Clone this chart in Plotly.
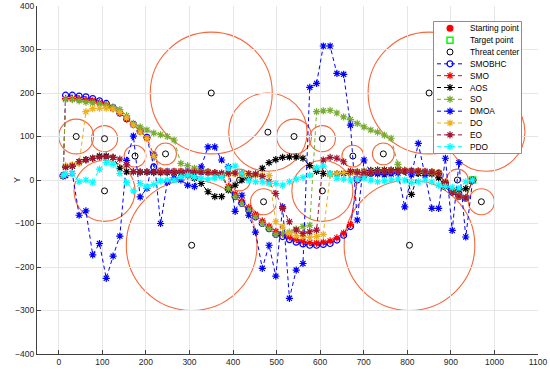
import plotly.graph_objects as go

# Grid of x positions for path points (interior waypoints)
x_grid = [15.6, 31.1, 46.7, 62.3, 77.9, 93.4, 109.0, 124.6, 140.1, 155.7,
          171.3, 186.8, 202.4, 218.0, 233.6, 249.1, 264.7, 280.3, 295.8, 311.4,
          327.0, 342.5, 358.1, 373.7, 389.3, 404.8, 420.4, 436.0, 451.5, 467.1,
          482.7, 498.2, 513.8, 529.4, 545.0, 560.5, 576.1, 591.7, 607.2, 622.8,
          638.4, 653.9, 669.5, 685.1, 700.7, 716.2, 731.8, 747.4, 762.9, 778.5,
          794.1, 809.6, 825.2, 840.8, 856.4, 871.9, 887.5, 903.1, 918.6, 934.2]

start_pt = (10, 10)
target_pt = (950, 0)

threat_x = [40, 105, 175, 245, 105, 305, 350, 415, 470, 480,
            540, 605, 675, 745, 605, 805, 850, 915, 970, 980]
threat_y = [100, 95, 55, 60, -25, -150, 200, 0, -50, 110,
            100, 95, 55, 60, -25, -150, 200, 0, -50, 110]
threat_r = [40, 30, 25, 25, 70, 150, 140, 25, 30, 90,
            40, 30, 25, 25, 70, 150, 140, 25, 30, 90]

y_smobhc = [195, 195, 193, 191, 187, 182, 176, 166, 154, 141, 128, 113, 98, 30, 19, 19, 19, 19, 19, 19,
            19, 18, 15, 10, -20, -38, -54, -69, -85, -100, -112, -125, -130, -137, -143, -147, -150, -150, -148, -146,
            -138, -127, -107, 0, 11, 15, 17, 18, 19, 20, 20, 20, 19, 18, 17, 16, -8, -28, -38, -42]
y_smo = [187, 187, 186, 184, 182, 178, 173, 165, 153, 140, 127, 112, 96, 57, 21, 20, 20, 20, 20, 20,
         20, 19, 17, 12, -15, -32, -48, -63, -79, -94, -106, -118, -124, -131, -137, -141, -144, -145, -143, -140,
         -133, -122, -102, 3, 13, 17, 19, 20, 21, 22, 22, 22, 21, 20, 19, 17, -5, -25, -36, -40]
y_aos = [30, 32, 42, 47, 50, 55, 55, 52, 27, 19, 19, 18, 18, 17, 17, 17, 17, 15, 10, 4,
         -8, -27, -38, -38, -23, -12, 0, 5, 12, 27, 40, 47, 52, 53, 53, 50, 33, 20, 15, 14,
         14, 15, 17, 19, 20, 22, 23, 23, 23, 23, 20, -33, 15, 15, 14, 5, -16, -23, -23, -20]
y_so = [185, 185, 182, 179, 177, 175, 172, 168, 162, 148, 130, 122, 115, 108, 104, 100, 92, 38, 33, 27,
        22, 19, 17, 12, -20, -38, -54, -69, -85, -100, -112, -125, -123, -120, -113, -107, -104, 157, 159, 160,
        154, 145, 139, 130, 122, 115, 110, 103, 96, 36, 22, 20, 19, 18, 17, 16, -6, -26, -37, -41]
y_dmoa = [10, 15, -81, -71, -172, -146, -226, -175, -129, 45, 101, -39, -19, 57, -100, -5, 5, 0, -12, -15,
          30, 76, 76, 46, 30, -72, -35, -81, -120, -203, -150, -221, -62, -272, -207, -192, 213, 222, 308, 308,
          245, 243, 126, -92, 46, 16, 14, 12, 14, 16, -62, 12, 84, 10, -65, -65, 50, -116, 40, -131]
y_do = [33, 35, 38, 157, 164, 165, 165, 163, 155, 143, 126, 110, 95, 55, 20, 19, 19, 19, 19, 19,
        19, 18, 17, 15, 14, 14, 13, 12, 12, 11, 10, -96, -108, -122, -128, -130, -132, -130, -125, 12,
        15, 17, 18, 18, 19, 19, 20, 20, 21, 21, 21, 21, 20, 19, 18, 15, -6, -26, -37, -41]
y_eo = [29, 32, 42, 46, 50, 53, 53, 52, 48, 35, 19, 19, 19, 19, 18, 18, 18, 18, 18, 18,
        18, 17, 17, 16, 16, 16, 15, 15, 14, 8, -4, -31, -65, -96, -115, -123, -119, -115, 46, 52,
        50, 42, 20, 17, 17, 18, 19, 20, 21, 21, 21, 21, 20, 19, 18, 15, -6, -27, -37, -41]
y_pdo = [15, 15, -4, 0, -5, 25, 40, 36, 15, -6, -25, -8, -15, -10, -2, 0, 0, 7, 11, 7,
         4, 2, 5, 7, 28, 32, 15, 0, -4, -4, -8, -8, -12, -4, 2, 6, 11, 28, 32, 15,
         4, 2, 0, 2, 4, 0, -4, -2, 0, 2, 0, -6, -4, 0, -4, -12, -15, -17, -19, -4]

x_ticks = [0, 100, 200, 300, 400, 500, 600, 700, 800, 900, 1000, 1100]
y_ticks = [-400, -300, -200, -100, 0, 100, 200, 300, 400]

series = [
    ("SMOBHC", y_smobhc, "#0000FF", "circle-open"),
    ("SMO", y_smo, "#FF0000", "asterisk-open"),
    ("AOS", y_aos, "#000000", "asterisk-open"),
    ("SO", y_so, "#77AC30", "asterisk-open"),
    ("DMOA", y_dmoa, "#0000FF", "asterisk-open"),
    ("DO", y_do, "#EDB120", "asterisk-open"),
    ("EO", y_eo, "#A2142F", "asterisk-open"),
    ("PDO", y_pdo, "#00FFFF", "asterisk-open"),
]

start_marker = dict(symbol="circle", size=7, color="#FF0000", line=dict(width=0))
target_marker = dict(symbol="square-open", size=6, color="#00FF00", line=dict(width=1.5, color="#00FF00"))
threat_marker = dict(symbol="circle-open", size=6, color="#000000", line=dict(width=1, color="#000000"))

fig = go.Figure()

fig.add_trace(go.Scatter(x=[start_pt[0]], y=[start_pt[1]], mode="markers", name="Starting point",
                         marker=start_marker, showlegend=False))
fig.add_trace(go.Scatter(x=[target_pt[0]], y=[target_pt[1]], mode="markers", name="Target point",
                         marker=target_marker, showlegend=False))
fig.add_trace(go.Scatter(x=threat_x, y=threat_y, mode="markers", name="Threat center",
                         marker=threat_marker, showlegend=False))

DASH = "4px,3px"
for name, ys, col, sym in series:
    xs = [start_pt[0]] + x_grid + [target_pt[0]]
    yy = [start_pt[1]] + ys + [target_pt[1]]
    fig.add_trace(go.Scatter(
        x=xs, y=yy, mode="lines+markers", name=name, showlegend=False,
        line=dict(color=col, width=1, dash=DASH),
        marker=dict(symbol=sym, size=6, color=col, line=dict(width=1.2, color=col)),
    ))

shapes = []
for cx, cy, r in zip(threat_x, threat_y, threat_r):
    shapes.append(dict(type="circle", xref="x", yref="y",
                       x0=cx - r, x1=cx + r, y0=cy - r, y1=cy + r,
                       line=dict(color="#F5693C", width=1.1), layer="below"))

# ---- Manual legend drawn on an overlay axis in pixel units ----
L, R, T, B = 37, 12, 6, 17
W, H = 550, 371
box = dict(x0=433.5, x1=521.5, y0=21.5, y1=153.5)
fig.add_trace(go.Scatter(
    x=[box["x0"], box["x1"], box["x1"], box["x0"], box["x0"]],
    y=[box["y0"], box["y0"], box["y1"], box["y1"], box["y0"]],
    mode="lines", fill="toself", fillcolor="white",
    line=dict(color="#8C8C8C", width=1), xaxis="x2", yaxis="y2",
    showlegend=False, hoverinfo="skip"))

legend_entries = [("Starting point", None, start_marker),
                  ("Target point", None, target_marker),
                  ("Threat center", None, threat_marker)]
for name, ys, col, sym in series:
    legend_entries.append((name, col, dict(symbol=sym, size=6, color=col, line=dict(width=1.2, color=col))))

row0, step = 28.3, 11.84
annotations = []
for i, (label, col, mk) in enumerate(legend_entries):
    yc = row0 + i * step
    if col is not None:
        fig.add_trace(go.Scatter(x=[437, 463], y=[yc, yc], mode="lines", xaxis="x2", yaxis="y2",
                                 line=dict(color=col, width=1, dash=DASH),
                                 showlegend=False, hoverinfo="skip"))
    fig.add_trace(go.Scatter(x=[450], y=[yc], mode="markers", xaxis="x2", yaxis="y2",
                             marker=mk, showlegend=False, hoverinfo="skip"))
    annotations.append(dict(x=468, y=yc, xref="x2", yref="y2", text=label, showarrow=False,
                            xanchor="left", yanchor="middle",
                            font=dict(size=8.3, color="#000000")))

annotations.append(dict(x=(10 - L) / (W - L - R), y=(H - B - 180) / (H - T - B), xref="paper", yref="paper",
                        text="Y", showarrow=False, textangle=-90,
                        font=dict(size=9, color="#262626")))

fig.update_layout(
    width=W, height=H,
    margin=dict(l=L, r=R, t=T, b=B),
    paper_bgcolor="white", plot_bgcolor="white",
    font=dict(family="Liberation Sans, Arial, sans-serif", size=8.5, color="#262626"),
    shapes=shapes,
    annotations=annotations,
    showlegend=False,
    hovermode=False,
    xaxis=dict(range=[-50, 1100], tickvals=x_ticks, automargin=False,
               showgrid=True, gridcolor="#E6E6E6", gridwidth=1, zeroline=False,
               showline=True, linecolor="#404040", linewidth=1,
               ticks="inside", ticklen=4, tickcolor="#404040"),
    yaxis=dict(range=[-400, 400], tickvals=y_ticks, automargin=False,
               showgrid=True, gridcolor="#E6E6E6", gridwidth=1, zeroline=False,
               showline=True, linecolor="#404040", linewidth=1,
               ticks="inside", ticklen=4, tickcolor="#404040"),
    xaxis2=dict(overlaying="x", range=[L, W - R], visible=False, fixedrange=True, anchor="y2"),
    yaxis2=dict(overlaying="y", range=[H - B, T], visible=False, fixedrange=True, anchor="x2"),
)

fig.write_html("out.html", config={"displayModeBar": False},
               post_script="document.body.style.margin='0px';document.body.style.overflow='hidden';")
